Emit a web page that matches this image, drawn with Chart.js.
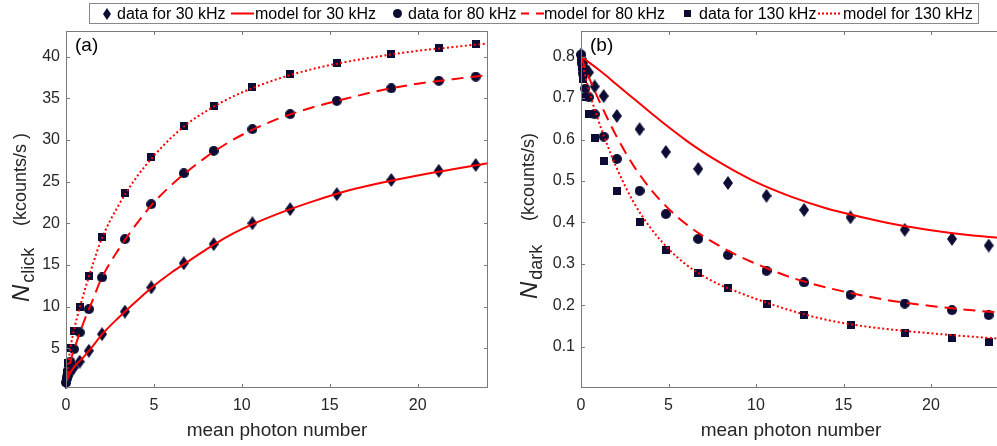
<!DOCTYPE html>
<html>
<head>
<meta charset="utf-8">
<script src="https://cdn.jsdelivr.net/npm/chart.js@4.4.0/dist/chart.umd.min.js"></script>
<style>
html, body { margin: 0; padding: 0; width: 997px; height: 446px; overflow: hidden; background: #fff; }
body { font-family: "Liberation Sans", Arial, sans-serif; }
#left { position: absolute; left: 0; top: 0; }
#right { position: absolute; left: 497px; top: 0; }
#legend { position: absolute; left: 89px; top: 3px; width: 888px; height: 19px; border: 1px solid #888; background: #fff; font-size: 16px; color: #000; }
#legend span { position: absolute; top: 0; line-height: 19px; white-space: nowrap; }
#legend canvas { position: absolute; top: 0; }
</style>
</head>
<body>
<canvas id="left" width="497" height="446"></canvas>
<canvas id="right" width="510" height="446"></canvas>
<div id="legend"></div>
<script>
// measured mean photon numbers (shared by all three repetition rates)
const photonX = [0.005, 0.03, 0.1, 0.25, 0.45, 0.78, 1.3, 2.05, 3.35, 4.85, 6.7, 8.4, 10.6, 12.75, 15.4, 18.5, 21.2, 23.3];

// panel (a): click rate, kcounts/s
const click30 = [0.9, 1.2, 1.6, 2.1, 2.7, 3.4, 4.7, 6.7, 9.4, 12.3, 15.2, 17.5, 20.0, 21.7, 23.5, 25.2, 26.3, 27.0];
const click80 = [0.9, 1.5, 2.3, 3.4, 4.9, 6.9, 9.7, 13.5, 18.1, 22.3, 26.0, 28.7, 31.3, 33.1, 34.7, 36.2, 37.1, 37.6];
const click130 = [0.9, 2.0, 3.2, 5.0, 7.1, 9.9, 13.7, 18.3, 23.6, 27.9, 31.7, 34.1, 36.3, 37.9, 39.2, 40.3, 41.0, 41.5];

// panel (b): dark rate, kcounts/s
const dark30 = [0.805, 0.795, 0.785, 0.772, 0.762, 0.728, 0.705, 0.657, 0.625, 0.570, 0.529, 0.495, 0.464, 0.430, 0.412, 0.382, 0.360, 0.344];
const dark80 = [0.805, 0.785, 0.76, 0.723, 0.702, 0.661, 0.607, 0.553, 0.476, 0.420, 0.360, 0.321, 0.283, 0.255, 0.225, 0.204, 0.188, 0.176];
const dark130 = [0.80, 0.775, 0.746, 0.702, 0.661, 0.604, 0.548, 0.476, 0.401, 0.334, 0.277, 0.241, 0.203, 0.177, 0.153, 0.133, 0.121, 0.112];

// model curves
const modelX = [0, 0.25, 0.5, 1, 1.5, 2, 3, 4, 5, 6, 7, 8, 9, 10, 12, 14, 16, 18, 20, 22, 24];
const clickModel30 = [0.9, 2.1, 2.85, 3.95, 5.2, 6.55, 8.7, 10.65, 12.5, 14.1, 15.5, 16.9, 18.2, 19.3, 21.1, 22.6, 23.9, 24.9, 25.75, 26.5, 27.2];
const clickModel80 = [0.9, 3.4, 5.1, 8.1, 10.7, 13.3, 16.9, 19.9, 22.5, 24.6, 26.4, 28.0, 29.4, 30.6, 32.5, 33.9, 35.0, 36.0, 36.75, 37.3, 37.8];
const clickModel130 = [0.9, 5.0, 7.6, 11.5, 14.9, 18.0, 22.2, 25.5, 28.1, 30.3, 32.1, 33.5, 34.7, 35.7, 37.3, 38.5, 39.4, 40.1, 40.7, 41.15, 41.6];
const darkModel30 = [0.80, 0.793, 0.785, 0.769, 0.752, 0.734, 0.699, 0.664, 0.630, 0.598, 0.569, 0.543, 0.519, 0.497, 0.462, 0.434, 0.413, 0.395, 0.381, 0.370, 0.362];
const darkModel80 = [0.80, 0.772, 0.745, 0.697, 0.652, 0.610, 0.537, 0.479, 0.433, 0.396, 0.366, 0.341, 0.319, 0.300, 0.267, 0.243, 0.224, 0.209, 0.198, 0.189, 0.182];
const darkModel130 = [0.80, 0.752, 0.712, 0.645, 0.587, 0.535, 0.449, 0.385, 0.336, 0.298, 0.270, 0.248, 0.231, 0.215, 0.187, 0.165, 0.150, 0.140, 0.132, 0.125, 0.119];

const xTicks = [0, 5, 10, 15, 20];
const clickTicks = [5, 10, 15, 20, 25, 30, 35, 40];
const darkTicks = [0.1, 0.2, 0.3, 0.4, 0.5, 0.6, 0.7, 0.8];

const labels = ['data for 30 kHz', 'model for 30 kHz', 'data for 80 kHz', 'model for 80 kHz', 'data for 130 kHz', 'model for 130 kHz'];

const markColor = '#0c0c35';
const red = '#ff0000';
const FONT = '"Liberation Sans", Arial, sans-serif';
Chart.defaults.font.family = FONT;

function marker(kind, w, h) {
    const c = document.createElement('canvas');
    c.width = w; c.height = h;
    const g = c.getContext('2d');
    g.fillStyle = markColor;
    g.beginPath();
    if (kind === 'diamond') {
        g.moveTo(w / 2, 0); g.lineTo(w, h / 2); g.lineTo(w / 2, h); g.lineTo(0, h / 2);
    } else if (kind === 'circle') {
        g.arc(w / 2, h / 2, w / 2, 0, Math.PI * 2);
    } else {
        g.rect(0, 0, w, h);
    }
    g.closePath();
    g.fill();
    return c;
}
const diamond = marker('diamond', 10, 14);
const circle = marker('circle', 10, 10);
const square = marker('square', 8, 8);

const zip = (xs, ys) => xs.map((x, i) => ({x: x, y: ys[i]}));

function dataSet(label, ys, style) {
    return { label: label, data: zip(photonX, ys), pointStyle: style, pointRadius: 5, showLine: false, order: 1, clip: false };
}
function modelSet(label, ys, dash) {
    return { label: label, data: zip(modelX, ys), showLine: true, pointRadius: 0, borderColor: red, borderWidth: 2, borderDash: dash, order: 0, cubicInterpolationMode: 'monotone' };
}

const frame = {
    id: 'frame',
    afterDatasetsDraw(chart, args, opts) {
        const ctx = chart.ctx, a = chart.chartArea, x = chart.scales.x, y = chart.scales.y;
        ctx.save();
        ctx.strokeStyle = '#7a7a7a';
        ctx.lineWidth = 1;
        ctx.strokeRect(a.left + 0.5, a.top + 0.5, a.right - a.left - 1, a.bottom - a.top - 1);
        ctx.beginPath();
        x.ticks.forEach(t => {
            const px = Math.round(x.getPixelForValue(t.value)) + 0.5;
            ctx.moveTo(px, a.bottom); ctx.lineTo(px, a.bottom - 4);
            ctx.moveTo(px, a.top); ctx.lineTo(px, a.top + 4);
        });
        y.ticks.forEach(t => {
            const py = Math.round(y.getPixelForValue(t.value)) + 0.5;
            ctx.moveTo(a.left, py); ctx.lineTo(a.left + 4, py);
            ctx.moveTo(a.right, py); ctx.lineTo(a.right - 4, py);
        });
        ctx.stroke();

        // panel letter
        ctx.fillStyle = '#000';
        ctx.font = '19px ' + FONT;
        ctx.textBaseline = 'middle';
        ctx.fillText(opts.panel, a.left + 9, a.top + 15);

        // y title: italic N with subscript, then unit ending at a fixed height
        ctx.translate(opts.titleX, opts.titleBottom);
        ctx.rotate(-Math.PI / 2);
        ctx.textBaseline = 'alphabetic';
        ctx.fillStyle = '#262626';
        ctx.font = 'italic 24px ' + FONT;
        ctx.fillText('N', 0, 0);
        const w = ctx.measureText('N').width;
        ctx.font = '18px ' + FONT;
        ctx.fillText(opts.sub, w + 2, 5);
        const uw = ctx.measureText(opts.unit).width;
        ctx.fillText(opts.unit, opts.titleBottom - opts.unitEnd - uw, -3);
        ctx.restore();
    }
};

function makeChart(id, sets, yMin, yMax, yTicks, axisWidth, padRight, panel, title) {
    return new Chart(document.getElementById(id), {
        type: 'scatter',
        data: { datasets: sets },
        options: {
            responsive: false,
            animation: false,
            events: [],
            layout: { padding: { top: 31, right: padRight, left: 0, bottom: 0 } },
            plugins: {
                legend: { display: false },
                tooltip: { enabled: false },
                frame: Object.assign({ panel: panel }, title)
            },
            scales: {
                x: {
                    type: 'linear', min: 0, max: 24,
                    grid: { display: false, drawTicks: false },
                    border: { display: false },
                    afterBuildTicks: s => { s.ticks = xTicks.map(v => ({value: v})); },
                    afterFit: s => { s.height = 58; },
                    ticks: { font: { size: 16 }, color: '#262626', padding: 8, maxRotation: 0 },
                    title: { display: true, text: 'mean photon number', font: { size: 19 }, color: '#262626', padding: { top: 0, bottom: 4 } }
                },
                y: {
                    type: 'linear', min: yMin, max: yMax,
                    grid: { display: false, drawTicks: false },
                    border: { display: false },
                    afterBuildTicks: s => { s.ticks = yTicks.map(v => ({value: v})); },
                    afterFit: s => { s.width = axisWidth; },
                    ticks: { font: { size: 16 }, color: '#262626', padding: 6, callback: v => String(v) }
                }
            }
        },
        plugins: [frame]
    });
}

makeChart('left', [
    dataSet(labels[0], click30, diamond),
    modelSet(labels[1], clickModel30, []),
    dataSet(labels[2], click80, circle),
    modelSet(labels[3], clickModel80, [12, 7]),
    dataSet(labels[4], click130, square),
    modelSet(labels[5], clickModel130, [2, 2.5])
], 0.235, 43.08, clickTicks, 66, 9, '(a)',
   { sub: 'click', unit: '(kcounts/s )', titleX: 29, titleBottom: 302, unitEnd: 133 });

makeChart('right', [
    dataSet(labels[0], dark30, diamond),
    modelSet(labels[1], darkModel30, []),
    dataSet(labels[2], dark80, circle),
    modelSet(labels[3], darkModel80, [12, 7]),
    dataSet(labels[4], dark130, square),
    modelSet(labels[5], darkModel130, [2, 2.5])
], 0, 0.862, darkTicks, 84, 4, '(b)',
   { sub: 'dark', unit: '(kcounts/s)', titleX: 40, titleBottom: 299, unitEnd: 133 });

// legend box spanning both panels
const legend = document.getElementById('legend');
const legendIcons = [
    {kind: 'mark', img: marker('diamond', 8, 12), at: 11},
    {kind: 'line', dash: [], at: 141},
    {kind: 'mark', img: marker('circle', 9, 9), at: 301},
    {kind: 'line', dash: [8, 7], at: 431},
    {kind: 'mark', img: marker('square', 7, 7), at: 591},
    {kind: 'line', dash: [2, 2], at: 728}
];
const legendText = [27, 165, 318, 454, 609, 753];
legendIcons.forEach((ic, i) => {
    const c = document.createElement('canvas');
    c.width = 24; c.height = 19;
    c.style.left = ic.at + 'px';
    const g = c.getContext('2d');
    if (ic.kind === 'mark') {
        g.drawImage(ic.img, Math.round(6 - ic.img.width / 2), Math.round(9.5 - ic.img.height / 2));
    } else {
        g.strokeStyle = red; g.lineWidth = 2; g.setLineDash(ic.dash);
        g.beginPath(); g.moveTo(0, 9.5); g.lineTo(23, 9.5); g.stroke();
    }
    legend.appendChild(c);
    const s = document.createElement('span');
    s.textContent = labels[i];
    s.style.left = legendText[i] + 'px';
    legend.appendChild(s);
});
</script>
</body>
</html>
